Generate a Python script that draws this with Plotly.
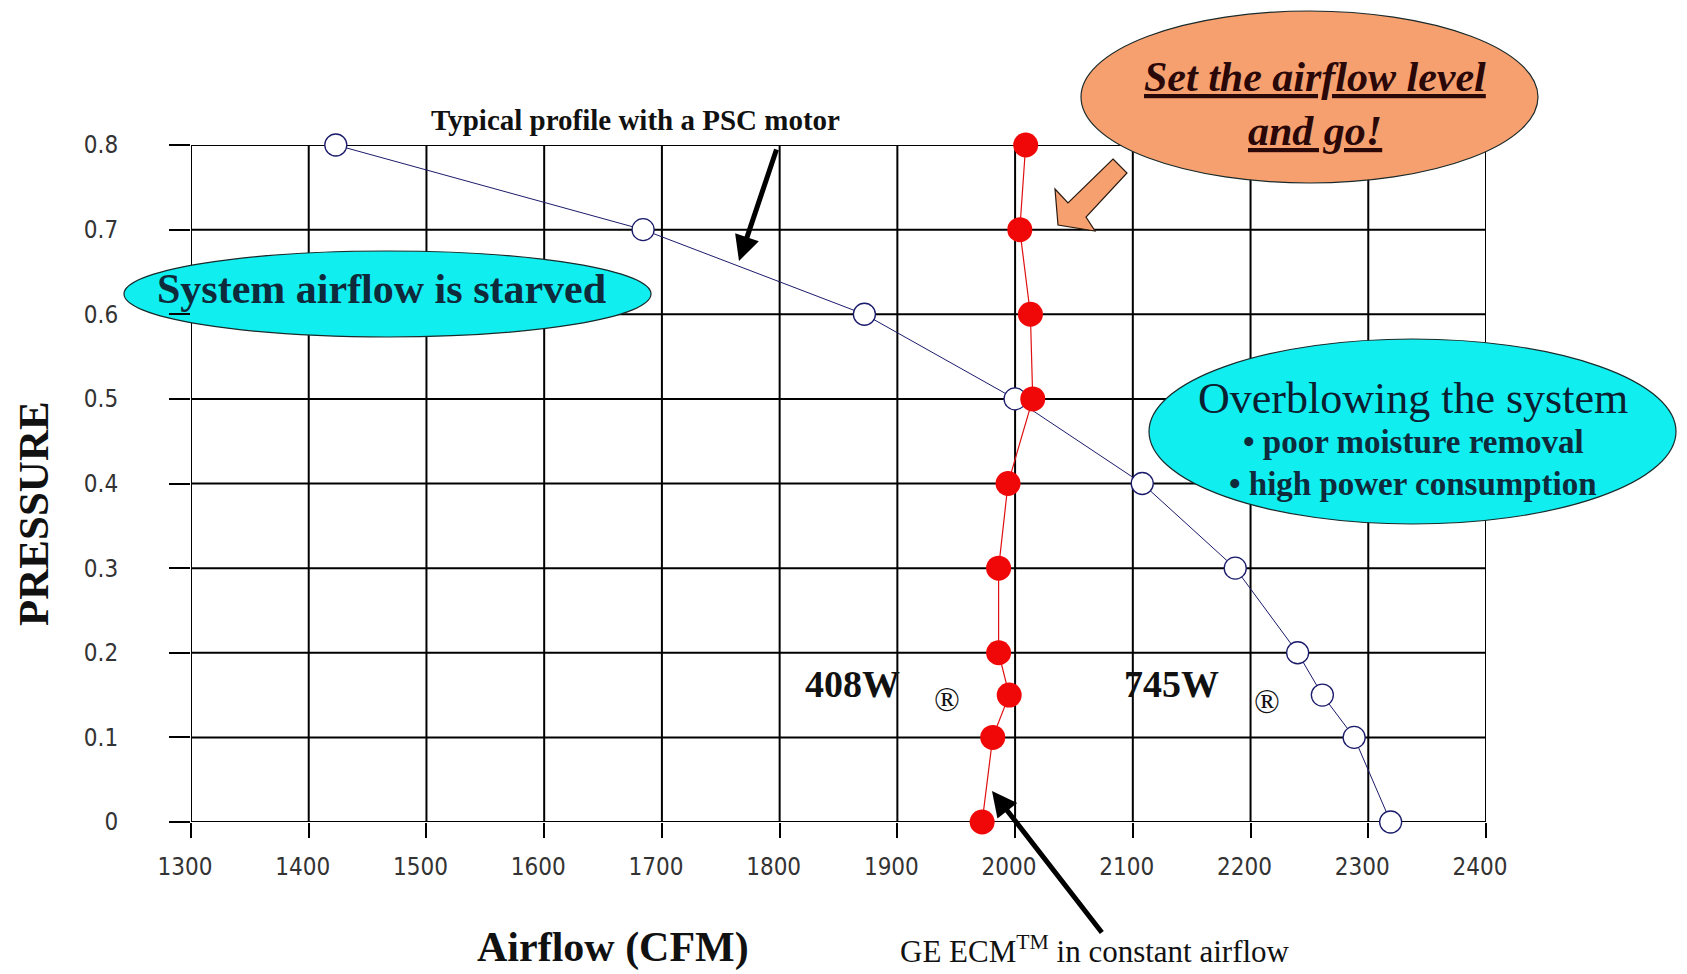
import plotly.graph_objects as go

# ---- data ----
pressure_psc = [0.8, 0.7, 0.6, 0.5, 0.4, 0.3, 0.2, 0.15, 0.1, 0.0]
airflow_psc = [1423, 1684, 1872, 2000, 2108, 2187, 2240, 2261, 2288, 2319]

pressure_ecm = [0.8, 0.7, 0.6, 0.5, 0.4, 0.3, 0.2, 0.15, 0.1, 0.0]
airflow_ecm = [2009, 2004, 2013, 2015, 1994, 1986, 1986, 1995, 1981, 1972]

x_ticks = [1300, 1400, 1500, 1600, 1700, 1800, 1900, 2000, 2100, 2200, 2300, 2400]
y_ticks = [0, 0.1, 0.2, 0.3, 0.4, 0.5, 0.6, 0.7, 0.8]
y_ticktext = ["0", "0.1", "0.2", "0.3", "0.4", "0.5", "0.6", "0.7", "0.8"]

# ---- layout geometry (page pixels) ----
W, H = 1687, 974
OFF = 8                       # default body margin of the page
L, R, T, B = 191, 1486, 145, 822


def px(x):
    return (x - L) / (R - L)


def py(y):
    return (B - y) / (B - T)


fig = go.Figure()

fig.add_trace(go.Scatter(
    x=airflow_psc, y=pressure_psc, mode="lines+markers",
    line=dict(color="#1b1b6b", width=1),
    marker=dict(symbol="circle", size=22, color="white",
                line=dict(color="#1b1b6b", width=1.3)),
    cliponaxis=False, showlegend=False,
))
fig.add_trace(go.Scatter(
    x=airflow_ecm, y=pressure_ecm, mode="lines+markers",
    line=dict(color="#e01010", width=1.2),
    marker=dict(symbol="circle", size=25, color="#f00808",
                line=dict(width=0)),
    cliponaxis=False, showlegend=False,
))

serif = "Liberation Serif, Times New Roman, serif"
shapes = []
GRID = "#000000"

# grid lines (drawn as shapes so the callouts can sit on top of them)
for v in x_ticks:
    shapes.append(dict(type="line", xref="x", yref="paper", x0=v, x1=v, y0=0, y1=1,
                       line=dict(color=GRID, width=2), layer="below"))
for v in y_ticks:
    shapes.append(dict(type="line", xref="paper", yref="y", x0=0, x1=1, y0=v, y1=v,
                       line=dict(color=GRID, width=2), layer="below"))


def ellipse(x0, y0, x1, y1, fill):
    shapes.append(dict(type="circle", xref="paper", yref="paper",
                       x0=px(x0), x1=px(x1), y0=py(y1), y1=py(y0),
                       fillcolor=fill, line=dict(color="#1a2a2a", width=1.2),
                       layer="below"))


ellipse(124, 251, 651, 337, "#10eef0")
ellipse(1081, 11, 1538, 183, "#f6a070")
ellipse(1149, 339, 1676, 524, "#10eef0")

# orange block arrow
pts = [(1113, 159), (1127, 173), (1086, 217), (1095, 231), (1058, 225),
       (1055, 189), (1068, 203)]
path = "M " + " L ".join(f"{px(a):.5f},{py(b):.5f}" for a, b in pts) + " Z"
shapes.append(dict(type="path", xref="paper", yref="paper", path=path,
                   fillcolor="#f6a070", line=dict(color="#2a1a10", width=1.2),
                   layer="above"))

annotations = []


def text(x, y, s, size, color="#111111", **kw):
    annotations.append(dict(x=px(x), y=py(y), xref="paper", yref="paper",
                            text=s, showarrow=False,
                            font=dict(family=serif, size=size, color=color),
                            xanchor="center", yanchor="middle", **kw))


def arrow(xt, yt, xh, yh, width=5, color="black"):
    annotations.append(dict(x=px(xh), y=py(yh), xref="paper", yref="paper",
                            ax=xt - xh, ay=yt - yh, axref="pixel", ayref="pixel",
                            text="", showarrow=True, arrowhead=2, arrowsize=1,
                            arrowwidth=width, arrowcolor=color, standoff=0))


text(381, 289, "<b>System airflow is starved</b>", 42, "#0f2a3a")
text(1315, 77, "<b><i><u>Set the airflow level</u></i></b>", 42, "#2a0808")
text(1315, 131, "<b><i><u>and go!</u></i></b>", 42, "#2a0808")
text(1413, 398, "Overblowing the system", 44, "#0a2030")
text(1413, 442, "<b>• poor moisture removal</b>", 33, "#0f2a3a")
text(1413, 484, "<b>• high power consumption</b>", 33, "#0f2a3a")
text(635, 120, "<b>Typical profile with a PSC motor</b>", 29, "#111111")
text(852, 684, "<b>408W</b>", 38)
text(947, 699, "®", 34)
text(1171, 684, "<b>745W</b>", 38)
text(1267, 701, "®", 34)
text(1095, 950, "GE ECM<sup>TM</sup> in constant airflow", 31)
text(613, 947, "<b>Airflow (CFM)</b>", 42)
text(34, 514, "<b>PRESSURE</b>", 43, textangle=-90)

arrow(777, 148, 739, 261)
arrow(1103, 934, 992, 791)

tickfont = dict(family="Liberation Sans Narrow, DejaVu Sans Condensed, Arial Narrow, sans-serif",
                size=24, color="#333333")

Wf, Hf = W - OFF, H - OFF
fig.update_layout(
    width=Wf, height=Hf,
    margin=dict(l=L - OFF, r=Wf - (R - OFF), t=T - OFF, b=Hf - (B - OFF)),
    paper_bgcolor="white", plot_bgcolor="white",
    shapes=shapes, annotations=annotations,
    xaxis=dict(range=[1300, 2400], tickvals=x_ticks, ticktext=[str(v) for v in x_ticks],
               showgrid=False, showline=False, zeroline=False,
               ticks="outside", ticklen=15, tickwidth=2, tickcolor=GRID,
               tickfont=tickfont, ticklabelstandoff=8, ticklabelshift=-6),
    yaxis=dict(range=[0, 0.8], tickvals=y_ticks, ticktext=y_ticktext,
               showgrid=False, showline=False, zeroline=False,
               ticks="outside", ticklen=21, tickwidth=2, tickcolor=GRID,
               tickfont=tickfont, ticklabelstandoff=46),
)

fig.write_html("out.html")
